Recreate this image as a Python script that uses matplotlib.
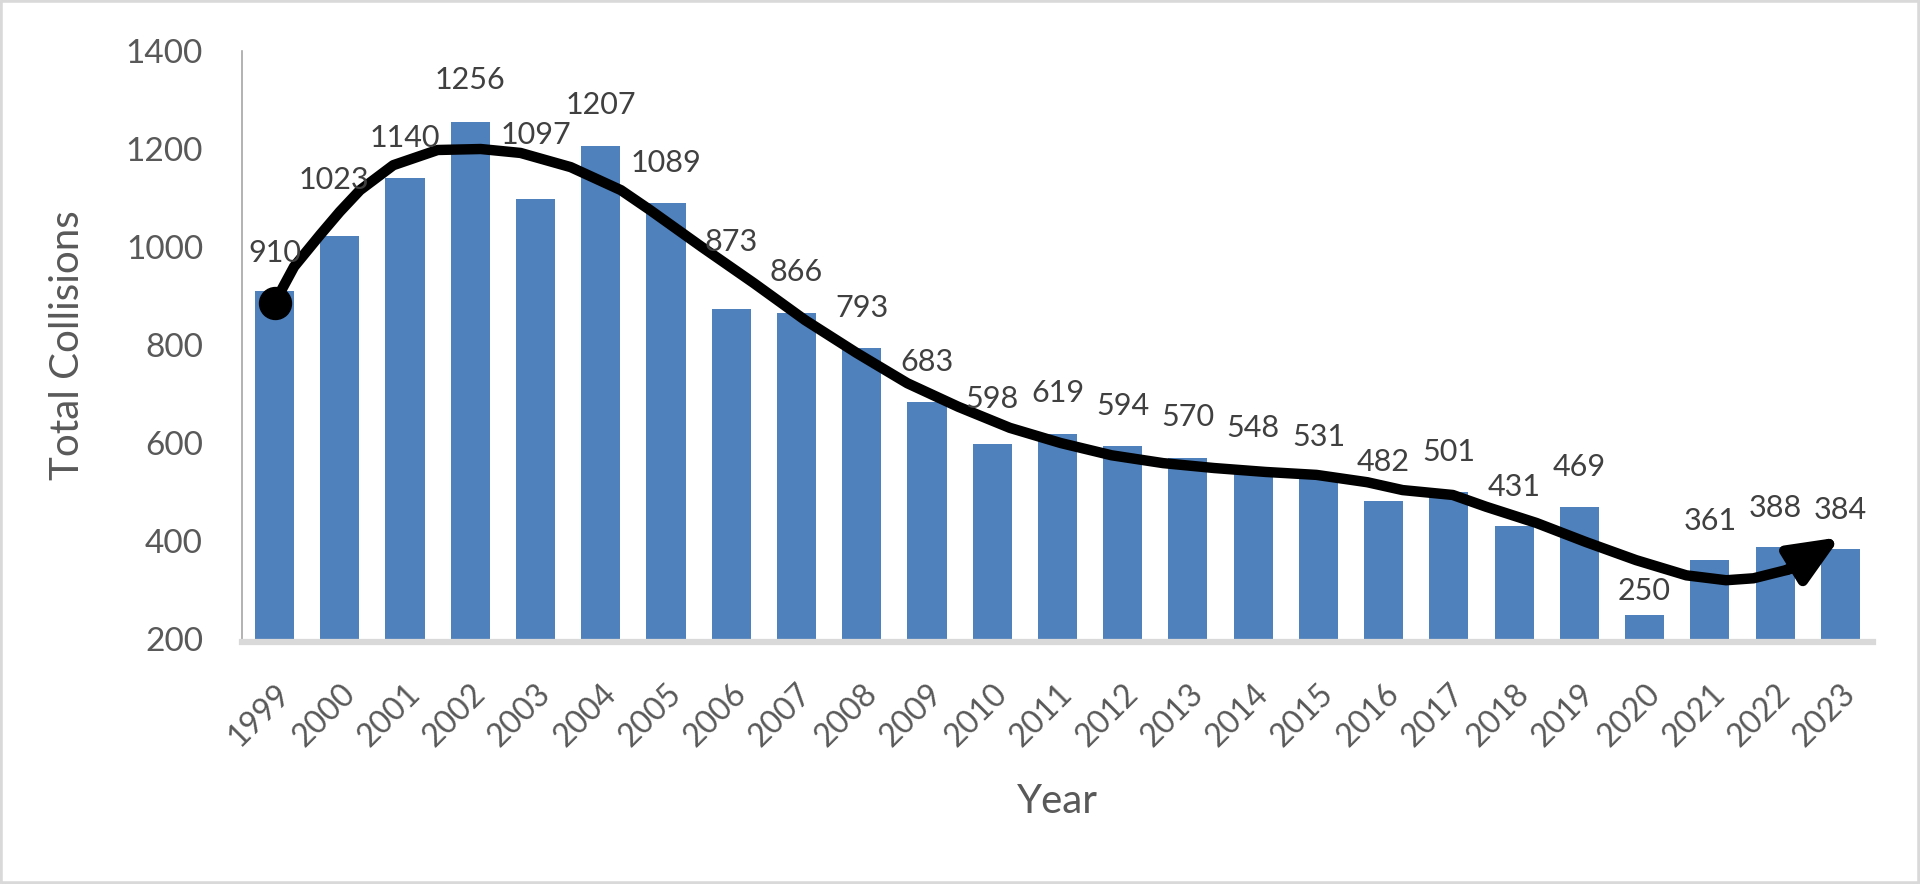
import numpy as np
import matplotlib.pyplot as plt
from matplotlib.patches import Rectangle

plt.rcParams['font.family'] = ['Lato', 'DejaVu Sans']

years = [str(y) for y in range(1999, 2024)]
collisions = [910, 1023, 1140, 1256, 1097, 1207, 1089, 873, 866, 793, 683, 598, 619,
              594, 570, 548, 531, 482, 501, 431, 469, 250, 361, 388, 384]

# where each value label sits above its bar (data units), most are the same
label_dy = [78, 114, 82, 85, 132, 83, 82, 137, 83, 82, 82, 92, 83,
            81, 83, 83, 81, 79, 81, 79, 82, 48, 80, 79, 79]
label_dx = [0] * 25
label_dx[1] = -0.09

# hand drawn trend arrow (x = category index)
trend_x = [0, 0.3, 0.7, 1.0, 1.31, 1.82, 2.5, 3.16, 3.77, 4.54, 5.31, 5.75,
           6.55, 7.35, 8.13, 8.92, 9.70, 10.48, 11.27, 12.05, 12.83, 13.62,
           14.4, 15.19, 15.97, 16.75, 17.29, 18.06, 18.57, 19.34, 20.1, 20.87, 21.64,
           22.25, 22.67, 23.18, 23.45]
trend_y = [886, 960, 1025, 1072, 1116, 1167, 1198, 1200, 1192, 1163, 1116, 1076,
           1000, 926, 851, 784, 722, 674, 631, 600, 575, 559,
           549, 541, 535, 520, 504, 494, 470, 437, 398, 361, 330,
           320, 324, 341, 352]
arrow_tip = (24.0, 408)

fig = plt.figure(figsize=(19.2, 8.84), dpi=100)
ax = fig.add_axes([0.126, 0.2771, 0.8495, 0.6652])

# spines first: moving a spine resets the ticks
for s in ['top', 'right']:
    ax.spines[s].set_visible(False)
ax.spines['left'].set_color('#A6A6A6')
ax.spines['left'].set_linewidth(1.2)
ax.spines['bottom'].set_color('#D9D9D9')
ax.spines['bottom'].set_linewidth(4.5)
ax.spines['bottom'].set_position(('outward', 2.2))

x = np.arange(len(years))
ax.bar(x, collisions, width=0.6, color='#4F81BD', zorder=2)

for i, v in enumerate(collisions):
    ax.text(i + label_dx[i], v + label_dy[i], str(v), ha='center', va='center',
            fontsize=22, color='#404040', zorder=4)

ax.plot(trend_x, trend_y, color='black', lw=7.5, solid_capstyle='butt',
        solid_joinstyle='round', zorder=3)
ax.plot(trend_x[0], trend_y[0], 'o', color='black', markersize=23, zorder=3)
ax.annotate('', xy=arrow_tip, xytext=(trend_x[-2], trend_y[-2]),
            arrowprops=dict(arrowstyle='-|>,head_length=0.75,head_width=0.32',
                            lw=7.5, color='black', shrinkA=0, shrinkB=0,
                            mutation_scale=40), zorder=3)

ax.set_xlim(-0.5, len(years) - 0.5)
ax.set_ylim(200, 1400)
ax.set_yticks(range(200, 1401, 200))
ax.set_xticks(x)
ax.set_xticklabels(years)

ax.tick_params(axis='y', length=0, pad=28, labelsize=24, labelcolor='#595959')
ax.tick_params(axis='x', length=0, pad=26, labelsize=23, labelcolor='#595959')
plt.setp(ax.get_xticklabels(), rotation=45, ha='right', va='top',
         rotation_mode='anchor')

ax.set_ylabel('Total Collisions', fontsize=29, color='#595959')
ax.yaxis.set_label_coords(-0.0957, 0.5)
ax.set_xlabel('Year', fontsize=29, color='#595959')
ax.xaxis.set_label_coords(0.5, -0.277)
ax.xaxis.label.set_va('center')

fig.patches.append(Rectangle((0, 0), 1, 1, transform=fig.transFigure, fill=False,
                             edgecolor='#D9D9D9', lw=4))

fig.savefig('out.png', dpi=100)
